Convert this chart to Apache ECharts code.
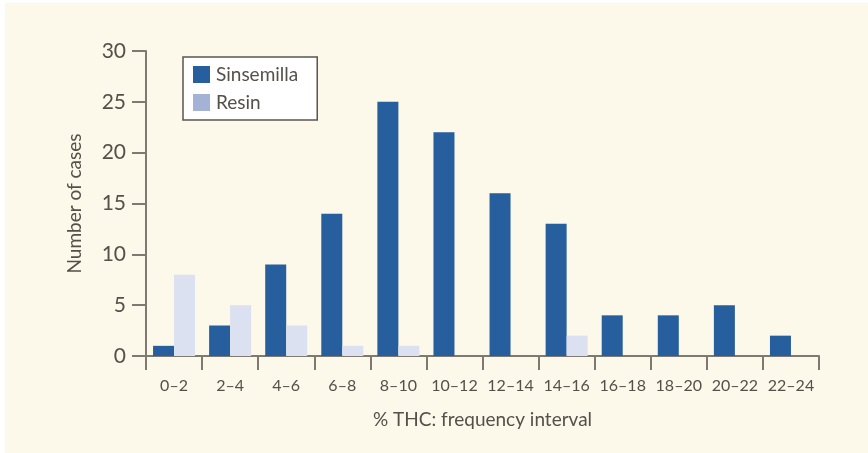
<!DOCTYPE html>
<html><head><meta charset="utf-8">
<script src="https://cdn.jsdelivr.net/npm/echarts@6/dist/echarts.min.js"></script>
<style>html,body{margin:0;padding:0;background:#fff;}#c{width:868px;height:453px;}</style>
</head><body><div id="c"></div>
<script>
const categories = ['0–2','2–4','4–6','6–8','8–10','10–12','12–14','14–16','16–18','18–20','20–22','22–24'];
const sinsemilla = [1,3,9,14,25,22,16,13,4,4,5,2];
const resin = [8,5,3,1,1,0,0,2,0,0,0,0];
const yTicks = [0,5,10,15,20,25,30];

const FONT = 'Lato';
const TXT = '#555049';
const AX = '#7f7a71';
const chart = echarts.init(document.getElementById('c'), null, {renderer:'canvas'});
chart.setOption({
  backgroundColor: '#ffffff',
  animation: false,
  graphic: [{type:'rect', z:-10, shape:{x:5,y:3,width:863,height:450}, style:{fill:'#fcf8ea'}}],
  textStyle: {fontFamily: FONT, color: TXT},
  legend: {
    orient: 'vertical', left: 183, top: 57,
    padding: [8, 19, 8, 10], itemGap: 9, itemWidth: 17, itemHeight: 17,
    backgroundColor: '#ffffff', borderColor: '#5a564f', borderWidth: 1.5, borderRadius: 0,
    textStyle: {fontFamily: FONT, fontSize: 19, color: TXT, padding:[0,0,0,1]},
    data: [
      {name:'Sinsemilla', icon:'rect', itemStyle:{color:'#275e9d'}},
      {name:'Resin', icon:'rect', itemStyle:{color:'#a4b3d5'}}
    ]
  },
  grid: {left: 146, right: 49, top: 51, bottom: 97, containLabel: false},
  xAxis: {
    type: 'category', data: categories,
    name: '% THC: frequency interval', nameLocation: 'middle', nameGap: 54,
    nameTextStyle: {fontFamily: FONT, fontSize: 19, color: TXT},
    axisLine: {lineStyle: {color: AX, width: 2}},
    axisTick: {show: true, length: 14, inside: false, lineStyle:{color: AX, width: 2}, alignWithLabel: false},
    axisLabel: {fontFamily: FONT, fontSize: 16, color: TXT, margin: 22, interval: 0}
  },
  yAxis: {
    type: 'value', min: 0, max: 30, interval: 5,
    name: 'Number of cases', nameLocation: 'middle', nameGap: 62, nameRotate: 90,
    nameTextStyle: {fontFamily: FONT, fontSize: 19, color: TXT},
    axisLine: {show: true, lineStyle: {color: AX, width: 2}},
    axisTick: {show: true, length: 14, lineStyle:{color: AX, width: 2}},
    axisLabel: {fontFamily: FONT, fontSize: 21, color: TXT, margin: 20},
    splitLine: {show: false}
  },
  series: [
    {name:'Sinsemilla', type:'bar', data: sinsemilla, barWidth: 21, barGap: '0%', itemStyle:{color:'#275e9d'}},
    {name:'Resin', type:'bar', data: resin, barWidth: 21, barGap: '0%', itemStyle:{color:'#dbe1f0'}}
  ]
});
</script></body></html>
